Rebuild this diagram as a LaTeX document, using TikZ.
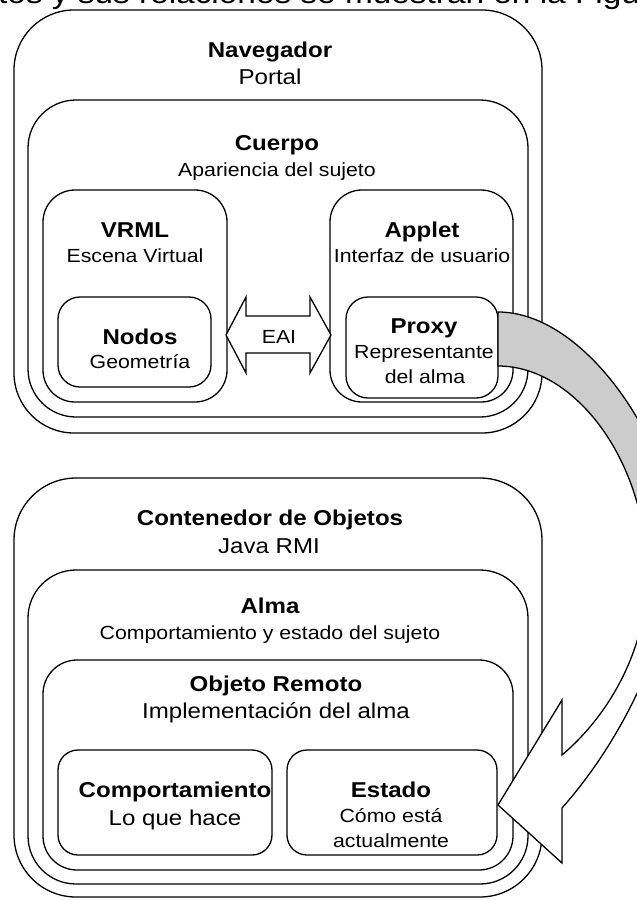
\documentclass[tikz,border=0pt]{standalone}
\usepackage{fontspec}
\setmainfont{Liberation Sans}[FakeStretch=1.12]
\usetikzlibrary{fit}
\definecolor{arrowgrey}{HTML}{CCCCCC}
\newcommand{\curvarrowpath}{(498,312) .. controls (585,312) and (668,440) .. (676,530) .. controls (682,600) and (640,720) .. (562,808) -- (562,863) -- (498,805) -- (562,700) -- (562,755) .. controls (615,710) and (649,640) .. (647,570) .. controls (645,460) and (575,366) .. (498,366) -- cycle}
\tikzset{
  box/.style={draw, line width=1.3pt, rounded corners=#1, inner sep=0pt},
  ttl/.style={font=\fontsize{21.5}{25}\selectfont\bfseries, anchor=base, inner sep=0pt},
  sub/.style={font=\fontsize{19}{23}\selectfont, anchor=base, inner sep=0pt},
  big/.style={font=\fontsize{21.5}{25}\selectfont, anchor=base, inner sep=0pt},
  edge/.style={line width=1.3pt, line join=miter}
}
\begin{document}
\begin{tikzpicture}[x=1pt,y=-1pt]
\useasboundingbox (0,0) rectangle (637,900);
% partial caption line at the top
\node[font=\fontsize{29.8}{34}\selectfont, anchor=base west, inner sep=0pt] (cap) at (-2,3) {\llap{elemen}tos y sus relaciones se muestran en la Figura};
% top group
\node[box=60pt, fit={(14,10) (542,433)}] (nav) {};
\node[box=48pt, fit={(28,100) (528,417)}] (cuerpo) {};
\node[box=32pt, fit={(43,190) (227,402)}] (vrml) {};
\node[box=32pt, fit={(330,190) (513,402)}] (applet) {};
\node[box=22pt, fit={(58,297) (211,387)}] (nodos) {};
\node[box=22pt, fit={(346,297) (498,398)}] (proxy) {};
\node[ttl] (navT) at (270,57) {Navegador};
\node[big] (navS) at (270,84) {Portal};
\node[ttl] (cuerpoT) at (277,150) {Cuerpo};
\node[sub] (cuerpoS) at (277,176) {Apariencia del sujeto};
\node[ttl] (vrmlT) at (135,237) {VRML};
\node[sub] (vrmlS) at (135,262) {Escena Virtual};
\node[ttl] (appletT) at (422,237) {Applet};
\node[sub] (appletS) at (422,262) {Interfaz de usuario};
\node[ttl] (nodosT) at (140,344) {Nodos};
\node[sub] (nodosS) at (140,368) {Geometría};
\node[ttl] (proxyT) at (424,333) {Proxy};
\node[sub] (proxyS) at (424,358) {Representante};
\node[sub] (proxyS2) at (425,383) {del alma};
% EAI double arrow
\draw[edge, fill=white] (226,335) -- (246,297) -- (246,316) -- (310,316) -- (310,297) -- (331,335) -- (310,373) -- (310,353) -- (246,353) -- (246,373) -- cycle;
\node[sub] (eai) at (279,343) {EAI};
% bottom group
\node[box=62pt, fit={(14,478) (542,897)}] (cont) {};
\node[box=48pt, fit={(28,570) (528,884)}] (alma) {};
\node[box=34pt, fit={(43,660) (513,870)}] (objeto) {};
\node[box=20pt, fit={(58,750) (272,855)}] (comp) {};
\node[box=20pt, fit={(287,750) (497,855)}] (estado) {};
\node[ttl] (contT) at (270,525) {Contenedor de Objetos};
\node[big] (contS) at (269,553) {Java RMI};
\node[ttl] (almaT) at (270,613) {Alma};
\node[sub] (almaS) at (270,639) {Comportamiento y estado del sujeto};
\node[ttl] (objetoT) at (276,691) {Objeto Remoto};
\node[big] (objetoS) at (276,718) {Implementación del alma};
\node[ttl] (compT) at (175,797) {Comportamiento};
\node[big] (compS) at (175,825) {Lo que hace};
\node[ttl] (estadoT) at (391,797) {Estado};
\node[sub] (estadoS) at (391,822) {Cómo está};
\node[sub] (estadoS2) at (391,847) {actualmente};
% big curved arrow from proxy to estado
\begin{scope}
  \clip (0,0) rectangle (700,560);
  \fill[arrowgrey] \curvarrowpath;
\end{scope}
\begin{scope}
  \clip (0,560) rectangle (700,950);
  \fill[white] \curvarrowpath;
\end{scope}
\draw[edge] \curvarrowpath;
\end{tikzpicture}
\end{document}
